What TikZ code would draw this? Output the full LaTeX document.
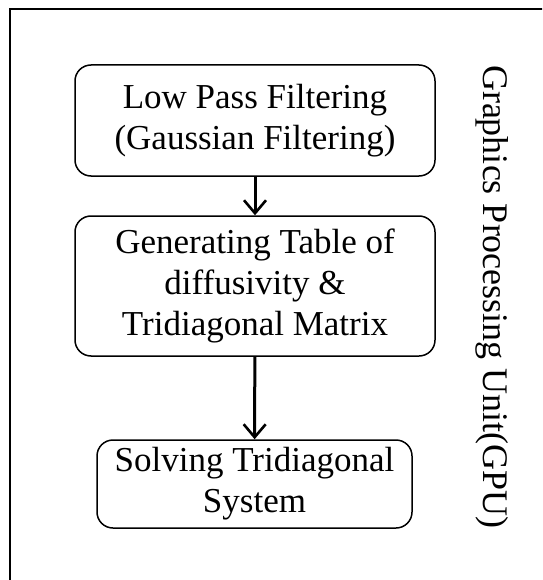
\documentclass[tikz,border=0pt]{standalone}
\usepackage{fontspec}
\setmainfont{Liberation Serif}
\usetikzlibrary{arrows.meta,positioning}
\tikzset{
    stage/.style={draw, rounded corners=16pt, line width=1.5pt, align=center,
        inner sep=0pt, font=\fontsize{35}{41}\selectfont},
    flow/.style={line width=3pt, -{Straight Barb[length=13pt, width=22pt, line width=2.6pt]}}
}
\begin{document}
\begin{tikzpicture}[x=1pt, y=-1pt]
                    \useasboundingbox (0,0) rectangle (542,580);
                    \clip (0,0) rectangle (542,580);
                    \draw[line width=2.4pt] (10,9) rectangle (600,640);

                    \node[stage, minimum width=360pt, minimum height=111pt] (lpf) at (255,120.5)
                        {Low Pass Filtering\\(Gaussian Filtering)};
                    \node[stage, minimum width=360pt, minimum height=140pt] (table) at (255,286)
                        {Generating Table of\\diffusivity \&\\Tridiagonal Matrix};
                    \node[stage, minimum width=315pt, minimum height=88pt] (solve) at (254.5,484)
                        {Solving Tridiagonal\\System};
                    \node[rotate=-90, font=\fontsize{36}{40}\selectfont] (gpu) at (492,297)
                        {Graphics Processing Unit(GPU)};

                    \draw[flow] (lpf) -- (table);
                    \draw[flow] (table) -- (solve);
                \end{tikzpicture}
\end{document}
